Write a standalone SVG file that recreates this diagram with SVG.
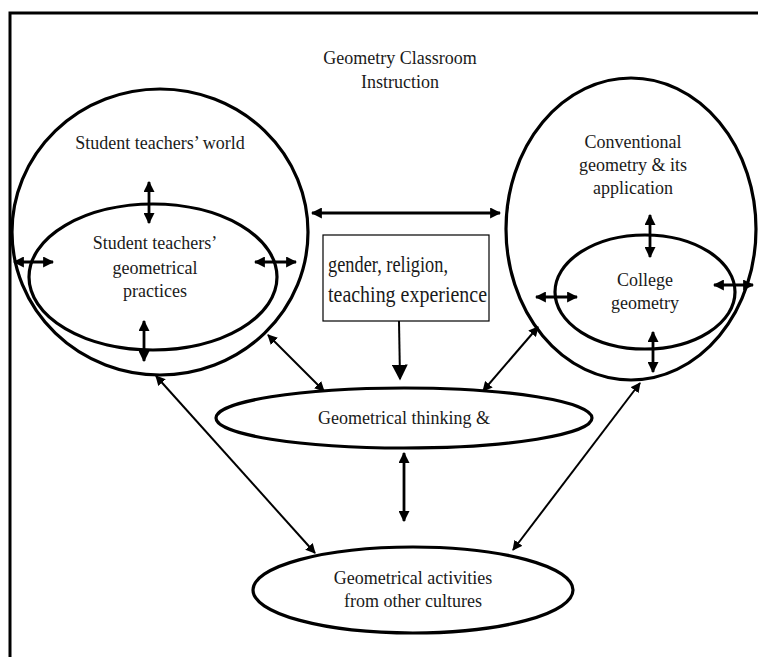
<svg xmlns="http://www.w3.org/2000/svg" width="758" height="657" viewBox="0 0 758 657">
<defs>
<marker id="ah" viewBox="0 0 10 10" markerUnits="userSpaceOnUse" markerWidth="11" markerHeight="11" refX="9" refY="5" orient="auto-start-reverse"><path d="M0,0 L10,5 L0,10 z" fill="#000"/></marker>
<marker id="ahs" viewBox="0 0 10 10" markerUnits="userSpaceOnUse" markerWidth="10" markerHeight="10" refX="9" refY="5" orient="auto-start-reverse"><path d="M0,0 L10,5 L0,10 z" fill="#000"/></marker>
<marker id="ahb" viewBox="0 0 10 10" markerUnits="userSpaceOnUse" markerWidth="16" markerHeight="16" refX="9" refY="5" orient="auto"><path d="M0,0 L10,5 L0,10 z" fill="#000"/></marker>
</defs>
<style>
.sh{fill:none;stroke:#000;stroke-width:3.2}
.t{font-family:"Liberation Serif","DejaVu Serif",serif;font-size:18px;fill:#1a1a1a;text-anchor:middle}
.bt{font-family:"Liberation Serif","Times New Roman",serif;font-size:24px;fill:#1a1a1a}
.c{fill:none;stroke:#000;stroke-width:2.8}
.d{fill:none;stroke:#000;stroke-width:2}
</style>
<rect width="758" height="657" fill="#fff"/>
<path d="M10,660 L10,13 L762,13" fill="none" stroke="#000" stroke-width="3"/>
<g id="title"><text class="t" x="400" y="64">Geometry Classroom</text><text class="t" x="400" y="88">Instruction</text></g>
<g id="world">
<ellipse class="sh" cx="160" cy="232" rx="148" ry="143"/>
<text class="t" x="160" y="149">Student teachers’ world</text>
</g>
<g id="practices">
<ellipse class="sh" cx="153" cy="277" rx="124" ry="73"/>
<text class="t" x="155" y="249">Student teachers’</text>
<text class="t" x="155" y="274">geometrical</text>
<text class="t" x="155" y="297">practices</text>
</g>
<g id="conventional">
<ellipse class="sh" cx="631" cy="229" rx="125" ry="151"/>
<text class="t" x="633" y="148">Conventional</text>
<text class="t" x="633" y="171">geometry &amp; its</text>
<text class="t" x="633" y="194">application</text>
</g>
<g id="college">
<ellipse class="sh" cx="645" cy="292" rx="90" ry="57"/>
<text class="t" x="645" y="286">College</text>
<text class="t" x="645" y="309">geometry</text>
</g>
<g id="factors">
<rect x="323" y="235" width="166" height="86" fill="#fff" stroke="#000" stroke-width="1.2"/>
<text class="bt" x="328" y="272" textLength="120" lengthAdjust="spacingAndGlyphs">gender, religion,</text>
<text class="bt" x="328" y="302" textLength="159" lengthAdjust="spacingAndGlyphs">teaching experience</text>
</g>
<g id="thinking">
<ellipse class="sh" cx="404" cy="418" rx="188" ry="30"/>
<text class="t" x="404" y="424">Geometrical thinking &amp;</text>
</g>
<g id="cultures">
<ellipse class="sh" cx="413" cy="590" rx="160" ry="43"/>
<text class="t" x="413" y="584">Geometrical activities</text>
<text class="t" x="413" y="607">from other cultures</text>
</g>
<g id="connectors">
<line class="c" x1="312" y1="213" x2="500" y2="213" marker-start="url(#ah)" marker-end="url(#ah)"/>
<line class="c" x1="149" y1="182" x2="149" y2="223" marker-start="url(#ah)" marker-end="url(#ah)"/>
<line class="c" x1="144" y1="321" x2="144" y2="361" marker-start="url(#ah)" marker-end="url(#ah)"/>
<line class="c" x1="14" y1="262" x2="53" y2="262" marker-start="url(#ah)" marker-end="url(#ah)"/>
<line class="c" x1="255" y1="262" x2="296" y2="262" marker-start="url(#ah)" marker-end="url(#ah)"/>
<line class="c" x1="650" y1="215" x2="650" y2="257" marker-start="url(#ah)" marker-end="url(#ah)"/>
<line class="c" x1="536" y1="297" x2="577" y2="297" marker-start="url(#ah)" marker-end="url(#ah)"/>
<line class="c" x1="714" y1="285" x2="753" y2="285" marker-start="url(#ah)" marker-end="url(#ah)"/>
<line class="c" x1="653" y1="332" x2="653" y2="372" marker-start="url(#ah)" marker-end="url(#ah)"/>
<line class="c" x1="404" y1="453" x2="404" y2="521" marker-start="url(#ah)" marker-end="url(#ah)"/>
<line class="d" x1="399" y1="321" x2="400" y2="379" marker-end="url(#ahb)"/>
<line class="d" x1="268" y1="335" x2="324" y2="391" marker-start="url(#ahs)" marker-end="url(#ahs)"/>
<line class="d" x1="538" y1="327" x2="483" y2="391" marker-start="url(#ahs)" marker-end="url(#ahs)"/>
<line class="d" x1="156" y1="376" x2="315" y2="553" marker-start="url(#ahs)" marker-end="url(#ahs)"/>
<line class="d" x1="640" y1="383" x2="513" y2="550" marker-start="url(#ahs)" marker-end="url(#ahs)"/>
</g>
</svg>
